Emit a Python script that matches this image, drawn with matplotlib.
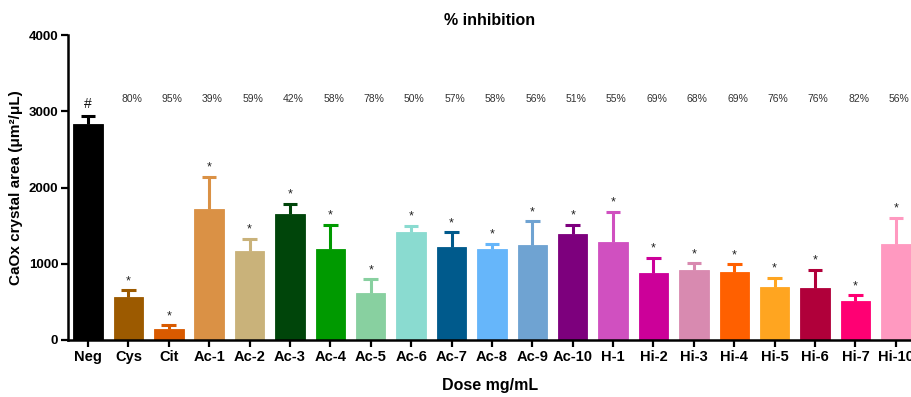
import matplotlib
matplotlib.use("Agg")
import matplotlib.pyplot as plt
import numpy as np

plt.rcParams['font.family'] = ['Liberation Sans', 'DejaVu Sans']

groups = ["Neg", "Cys", "Cit", "Ac-1", "Ac-2", "Ac-3", "Ac-4", "Ac-5", "Ac-6", "Ac-7",
          "Ac-8", "Ac-9", "Ac-10", "H-1", "Hi-2", "Hi-3", "Hi-4", "Hi-5", "Hi-6", "Hi-7", "Hi-10"]
means = [2830, 560, 150, 1720, 1170, 1655, 1195, 620, 1410, 1225,
         1200, 1240, 1390, 1290, 875, 915, 895, 695, 680, 505, 1265]
sem = [110, 95, 45, 420, 155, 130, 315, 175, 90, 185,
       60, 315, 120, 395, 205, 90, 100, 120, 240, 80, 340]
inhibition = ["80%", "95%", "39%", "59%", "42%", "58%", "78%", "50%", "57%", "58%",
              "56%", "51%", "55%", "69%", "68%", "69%", "76%", "76%", "82%", "56%"]
marks = ["#"] + ["*"] * 20
colors = ["#000000", "#9C5A00", "#D95A00", "#DA9145", "#C9B27A", "#00450A", "#009A00",
          "#88D0A0", "#8ADBD0", "#005A8C", "#66B6FA", "#6FA3D2", "#7D007D", "#D050C0",
          "#CC0099", "#D88AB0", "#FF6000", "#FFA520", "#B0003A", "#FF0073", "#FF99C0"]

fig = plt.figure(figsize=(9.12, 3.97), dpi=100)
ax = fig.add_axes([68 / 912, 1 - 340 / 397, 1 - 68 / 912, (340 - 35) / 397])

x = np.arange(len(groups))
ax.bar(x, means, width=0.73, color=colors, edgecolor=colors, linewidth=0.6, zorder=2)

# upper-only error bars with a cap at the top
tops = np.array(means) + np.array(sem)
ax.vlines(x, means, tops, colors=colors, linewidth=2.2, zorder=1)
ax.scatter(x, tops, marker="_", s=110, c=colors, linewidths=2.2, zorder=1)

for xi, t, s in zip(x, tops, marks):
    if s == "#":
        ax.text(xi, t + 60, s, ha="center", va="bottom", fontsize=10, color="#111111")
    else:
        ax.text(xi, t + 40, s, ha="center", va="bottom", fontsize=9, color="#222222")

for xi, lab in zip(x[1:], inhibition):
    ax.text(xi + 0.08, 3160, lab, ha="center", va="center", fontsize=7.5, color="#333333")

ax.set_xlim(-0.495, 20.4)
ax.set_ylim(0, 4000)
ax.set_yticks([0, 1000, 2000, 3000, 4000])
ax.set_xticks(x)
ax.set_xticklabels(groups, fontsize=10.5, fontweight="bold")
for lbl in ax.get_yticklabels():
    lbl.set_fontweight("bold")
    lbl.set_fontsize(9.5)

for side in ["top", "right"]:
    ax.spines[side].set_visible(False)
for side in ["left", "bottom"]:
    ax.spines[side].set_linewidth(1.8)
ax.tick_params(axis="both", width=1.6, length=5, direction="out", pad=2)

ax.set_ylabel("CaOx crystal area (μm²/μL)", fontsize=11, fontweight="bold", labelpad=4)
ax.set_xlabel("Dose mg/mL", fontsize=11.5, fontweight="bold", labelpad=10)
ax.set_title("% inhibition", fontsize=11.5, fontweight="bold", pad=7)

fig.savefig("out.png", dpi=100)
